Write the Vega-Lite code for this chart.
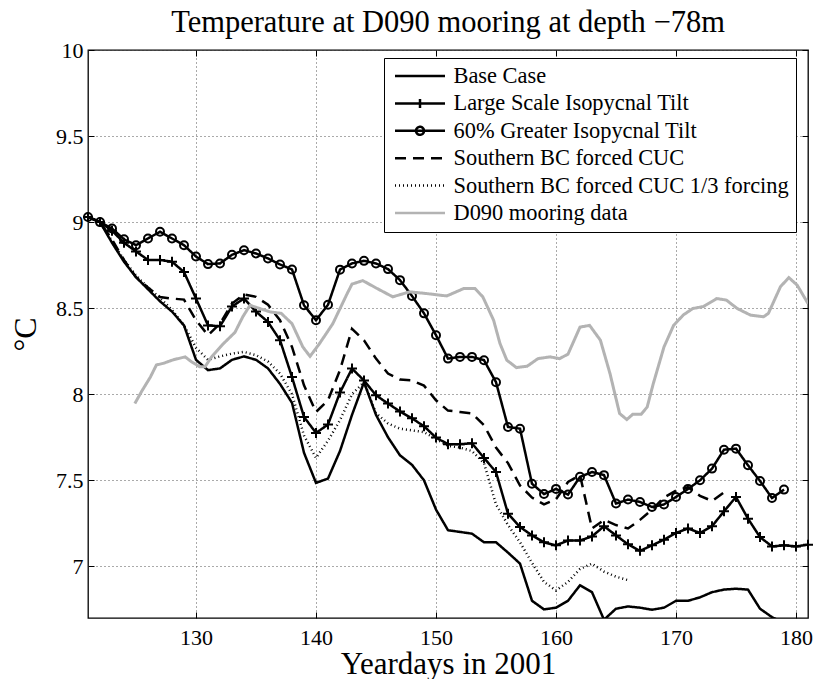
{
  "$schema": "https://vega.github.io/schema/vega-lite/v6.json",
  "width": 720,
  "height": 568,
  "autosize": {"type": "none"},
  "padding": {"left": 88, "top": 50, "right": 7, "bottom": 61},
  "background": "white",
  "title": {"text": "Temperature at D090 mooring at depth −78m", "font": "Liberation Serif", "fontSize": 30.5, "fontWeight": "normal", "color": "black", "offset": 1, "anchor": "middle"},
  "config": {
    "view": {"stroke": "black", "strokeWidth": 1.3},
    "font": "Liberation Serif"
  },
  "datasets": {
    "sim": [
      {"day":121,"series":"Base Case","temp":9.03},{"day":122,"series":"Base Case","temp":9.0},{"day":123,"series":"Base Case","temp":8.88},{"day":124,"series":"Base Case","temp":8.77},{"day":125,"series":"Base Case","temp":8.68},{"day":126,"series":"Base Case","temp":8.61},{"day":127,"series":"Base Case","temp":8.54},{"day":128,"series":"Base Case","temp":8.48},{"day":129,"series":"Base Case","temp":8.40},{"day":130,"series":"Base Case","temp":8.20},{"day":131,"series":"Base Case","temp":8.14},{"day":132,"series":"Base Case","temp":8.15},{"day":133,"series":"Base Case","temp":8.20},{"day":134,"series":"Base Case","temp":8.22},{"day":135,"series":"Base Case","temp":8.20},{"day":136,"series":"Base Case","temp":8.15},{"day":137,"series":"Base Case","temp":8.06},{"day":138,"series":"Base Case","temp":7.95},{"day":139,"series":"Base Case","temp":7.66},{"day":140,"series":"Base Case","temp":7.485},{"day":141,"series":"Base Case","temp":7.51},{"day":142,"series":"Base Case","temp":7.67},{"day":143,"series":"Base Case","temp":7.88},{"day":144,"series":"Base Case","temp":8.07},{"day":145,"series":"Base Case","temp":7.88},{"day":146,"series":"Base Case","temp":7.75},{"day":147,"series":"Base Case","temp":7.645},{"day":148,"series":"Base Case","temp":7.59},{"day":149,"series":"Base Case","temp":7.50},{"day":150,"series":"Base Case","temp":7.33},{"day":151,"series":"Base Case","temp":7.21},{"day":152,"series":"Base Case","temp":7.20},{"day":153,"series":"Base Case","temp":7.19},{"day":154,"series":"Base Case","temp":7.14},{"day":155,"series":"Base Case","temp":7.14},{"day":156,"series":"Base Case","temp":7.08},{"day":157,"series":"Base Case","temp":7.016},{"day":158,"series":"Base Case","temp":6.80},{"day":159,"series":"Base Case","temp":6.75},{"day":160,"series":"Base Case","temp":6.76},{"day":161,"series":"Base Case","temp":6.80},{"day":162,"series":"Base Case","temp":6.89},{"day":163,"series":"Base Case","temp":6.85},{"day":164,"series":"Base Case","temp":6.69},{"day":165,"series":"Base Case","temp":6.754},{"day":166,"series":"Base Case","temp":6.767},{"day":167,"series":"Base Case","temp":6.76},{"day":168,"series":"Base Case","temp":6.748},{"day":169,"series":"Base Case","temp":6.76},{"day":170,"series":"Base Case","temp":6.80},{"day":171,"series":"Base Case","temp":6.80},{"day":172,"series":"Base Case","temp":6.82},{"day":173,"series":"Base Case","temp":6.85},{"day":174,"series":"Base Case","temp":6.865},{"day":175,"series":"Base Case","temp":6.87},{"day":176,"series":"Base Case","temp":6.865},{"day":177,"series":"Base Case","temp":6.754},{"day":178,"series":"Base Case","temp":6.705},{"day":179,"series":"Base Case","temp":6.67},{"day":180,"series":"Base Case","temp":6.68},{"day":181,"series":"Base Case","temp":6.67},

      {"day":121,"series":"Large Scale Isopycnal Tilt","temp":9.03},{"day":122,"series":"Large Scale Isopycnal Tilt","temp":9.0},{"day":123,"series":"Large Scale Isopycnal Tilt","temp":8.95},{"day":124,"series":"Large Scale Isopycnal Tilt","temp":8.88},{"day":125,"series":"Large Scale Isopycnal Tilt","temp":8.83},{"day":126,"series":"Large Scale Isopycnal Tilt","temp":8.78},{"day":127,"series":"Large Scale Isopycnal Tilt","temp":8.78},{"day":128,"series":"Large Scale Isopycnal Tilt","temp":8.77},{"day":129,"series":"Large Scale Isopycnal Tilt","temp":8.71},{"day":130,"series":"Large Scale Isopycnal Tilt","temp":8.556},{"day":131,"series":"Large Scale Isopycnal Tilt","temp":8.40},{"day":132,"series":"Large Scale Isopycnal Tilt","temp":8.395},{"day":133,"series":"Large Scale Isopycnal Tilt","temp":8.51},{"day":134,"series":"Large Scale Isopycnal Tilt","temp":8.556},{"day":135,"series":"Large Scale Isopycnal Tilt","temp":8.48},{"day":136,"series":"Large Scale Isopycnal Tilt","temp":8.42},{"day":137,"series":"Large Scale Isopycnal Tilt","temp":8.314},{"day":138,"series":"Large Scale Isopycnal Tilt","temp":8.10},{"day":139,"series":"Large Scale Isopycnal Tilt","temp":7.868},{"day":140,"series":"Large Scale Isopycnal Tilt","temp":7.775},{"day":141,"series":"Large Scale Isopycnal Tilt","temp":7.824},{"day":142,"series":"Large Scale Isopycnal Tilt","temp":8.01},{"day":143,"series":"Large Scale Isopycnal Tilt","temp":8.149},{"day":144,"series":"Large Scale Isopycnal Tilt","temp":8.08},{"day":145,"series":"Large Scale Isopycnal Tilt","temp":7.994},{"day":146,"series":"Large Scale Isopycnal Tilt","temp":7.946},{"day":147,"series":"Large Scale Isopycnal Tilt","temp":7.90},{"day":148,"series":"Large Scale Isopycnal Tilt","temp":7.86},{"day":149,"series":"Large Scale Isopycnal Tilt","temp":7.814},{"day":150,"series":"Large Scale Isopycnal Tilt","temp":7.748},{"day":151,"series":"Large Scale Isopycnal Tilt","temp":7.71},{"day":152,"series":"Large Scale Isopycnal Tilt","temp":7.71},{"day":153,"series":"Large Scale Isopycnal Tilt","temp":7.715},{"day":154,"series":"Large Scale Isopycnal Tilt","temp":7.63},{"day":155,"series":"Large Scale Isopycnal Tilt","temp":7.548},{"day":156,"series":"Large Scale Isopycnal Tilt","temp":7.306},{"day":157,"series":"Large Scale Isopycnal Tilt","temp":7.229},{"day":158,"series":"Large Scale Isopycnal Tilt","temp":7.18},{"day":159,"series":"Large Scale Isopycnal Tilt","temp":7.14},{"day":160,"series":"Large Scale Isopycnal Tilt","temp":7.122},{"day":161,"series":"Large Scale Isopycnal Tilt","temp":7.15},{"day":162,"series":"Large Scale Isopycnal Tilt","temp":7.15},{"day":163,"series":"Large Scale Isopycnal Tilt","temp":7.174},{"day":164,"series":"Large Scale Isopycnal Tilt","temp":7.233},{"day":165,"series":"Large Scale Isopycnal Tilt","temp":7.18},{"day":166,"series":"Large Scale Isopycnal Tilt","temp":7.128},{"day":167,"series":"Large Scale Isopycnal Tilt","temp":7.09},{"day":168,"series":"Large Scale Isopycnal Tilt","temp":7.122},{"day":169,"series":"Large Scale Isopycnal Tilt","temp":7.155},{"day":170,"series":"Large Scale Isopycnal Tilt","temp":7.194},{"day":171,"series":"Large Scale Isopycnal Tilt","temp":7.22},{"day":172,"series":"Large Scale Isopycnal Tilt","temp":7.194},{"day":173,"series":"Large Scale Isopycnal Tilt","temp":7.233},{"day":174,"series":"Large Scale Isopycnal Tilt","temp":7.32},{"day":175,"series":"Large Scale Isopycnal Tilt","temp":7.403},{"day":176,"series":"Large Scale Isopycnal Tilt","temp":7.277},{"day":177,"series":"Large Scale Isopycnal Tilt","temp":7.17},{"day":178,"series":"Large Scale Isopycnal Tilt","temp":7.116},{"day":179,"series":"Large Scale Isopycnal Tilt","temp":7.122},{"day":180,"series":"Large Scale Isopycnal Tilt","temp":7.116},{"day":181,"series":"Large Scale Isopycnal Tilt","temp":7.126},

      {"day":121,"series":"60% Greater Isopycnal Tilt","temp":9.03},{"day":122,"series":"60% Greater Isopycnal Tilt","temp":9.0},{"day":123,"series":"60% Greater Isopycnal Tilt","temp":8.963},{"day":124,"series":"60% Greater Isopycnal Tilt","temp":8.90},{"day":125,"series":"60% Greater Isopycnal Tilt","temp":8.866},{"day":126,"series":"60% Greater Isopycnal Tilt","temp":8.905},{"day":127,"series":"60% Greater Isopycnal Tilt","temp":8.944},{"day":128,"series":"60% Greater Isopycnal Tilt","temp":8.905},{"day":129,"series":"60% Greater Isopycnal Tilt","temp":8.866},{"day":130,"series":"60% Greater Isopycnal Tilt","temp":8.80},{"day":131,"series":"60% Greater Isopycnal Tilt","temp":8.756},{"day":132,"series":"60% Greater Isopycnal Tilt","temp":8.76},{"day":133,"series":"60% Greater Isopycnal Tilt","temp":8.81},{"day":134,"series":"60% Greater Isopycnal Tilt","temp":8.837},{"day":135,"series":"60% Greater Isopycnal Tilt","temp":8.818},{"day":136,"series":"60% Greater Isopycnal Tilt","temp":8.789},{"day":137,"series":"60% Greater Isopycnal Tilt","temp":8.754},{"day":138,"series":"60% Greater Isopycnal Tilt","temp":8.725},{"day":139,"series":"60% Greater Isopycnal Tilt","temp":8.517},{"day":140,"series":"60% Greater Isopycnal Tilt","temp":8.43},{"day":141,"series":"60% Greater Isopycnal Tilt","temp":8.52},{"day":142,"series":"60% Greater Isopycnal Tilt","temp":8.724},{"day":143,"series":"60% Greater Isopycnal Tilt","temp":8.76},{"day":144,"series":"60% Greater Isopycnal Tilt","temp":8.775},{"day":145,"series":"60% Greater Isopycnal Tilt","temp":8.76},{"day":146,"series":"60% Greater Isopycnal Tilt","temp":8.727},{"day":147,"series":"60% Greater Isopycnal Tilt","temp":8.663},{"day":148,"series":"60% Greater Isopycnal Tilt","temp":8.571},{"day":149,"series":"60% Greater Isopycnal Tilt","temp":8.47},{"day":150,"series":"60% Greater Isopycnal Tilt","temp":8.343},{"day":151,"series":"60% Greater Isopycnal Tilt","temp":8.207},{"day":152,"series":"60% Greater Isopycnal Tilt","temp":8.217},{"day":153,"series":"60% Greater Isopycnal Tilt","temp":8.217},{"day":154,"series":"60% Greater Isopycnal Tilt","temp":8.198},{"day":155,"series":"60% Greater Isopycnal Tilt","temp":8.07},{"day":156,"series":"60% Greater Isopycnal Tilt","temp":7.81},{"day":157,"series":"60% Greater Isopycnal Tilt","temp":7.80},{"day":158,"series":"60% Greater Isopycnal Tilt","temp":7.48},{"day":159,"series":"60% Greater Isopycnal Tilt","temp":7.42},{"day":160,"series":"60% Greater Isopycnal Tilt","temp":7.45},{"day":161,"series":"60% Greater Isopycnal Tilt","temp":7.417},{"day":162,"series":"60% Greater Isopycnal Tilt","temp":7.52},{"day":163,"series":"60% Greater Isopycnal Tilt","temp":7.548},{"day":164,"series":"60% Greater Isopycnal Tilt","temp":7.53},{"day":165,"series":"60% Greater Isopycnal Tilt","temp":7.365},{"day":166,"series":"60% Greater Isopycnal Tilt","temp":7.388},{"day":167,"series":"60% Greater Isopycnal Tilt","temp":7.374},{"day":168,"series":"60% Greater Isopycnal Tilt","temp":7.345},{"day":169,"series":"60% Greater Isopycnal Tilt","temp":7.36},{"day":170,"series":"60% Greater Isopycnal Tilt","temp":7.403},{"day":171,"series":"60% Greater Isopycnal Tilt","temp":7.45},{"day":172,"series":"60% Greater Isopycnal Tilt","temp":7.50},{"day":173,"series":"60% Greater Isopycnal Tilt","temp":7.568},{"day":174,"series":"60% Greater Isopycnal Tilt","temp":7.678},{"day":175,"series":"60% Greater Isopycnal Tilt","temp":7.684},{"day":176,"series":"60% Greater Isopycnal Tilt","temp":7.587},{"day":177,"series":"60% Greater Isopycnal Tilt","temp":7.496},{"day":178,"series":"60% Greater Isopycnal Tilt","temp":7.397},{"day":179,"series":"60% Greater Isopycnal Tilt","temp":7.446},

      {"day":121,"series":"Southern BC forced CUC","temp":9.03},{"day":122,"series":"Southern BC forced CUC","temp":9.0},{"day":123,"series":"Southern BC forced CUC","temp":8.90},{"day":124,"series":"Southern BC forced CUC","temp":8.78},{"day":125,"series":"Southern BC forced CUC","temp":8.68},{"day":126,"series":"Southern BC forced CUC","temp":8.62},{"day":127,"series":"Southern BC forced CUC","temp":8.565},{"day":128,"series":"Southern BC forced CUC","temp":8.556},{"day":129,"series":"Southern BC forced CUC","temp":8.55},{"day":130,"series":"Southern BC forced CUC","temp":8.43},{"day":131,"series":"Southern BC forced CUC","temp":8.343},{"day":132,"series":"Southern BC forced CUC","temp":8.41},{"day":133,"series":"Southern BC forced CUC","temp":8.527},{"day":134,"series":"Southern BC forced CUC","temp":8.58},{"day":135,"series":"Southern BC forced CUC","temp":8.566},{"day":136,"series":"Southern BC forced CUC","temp":8.52},{"day":137,"series":"Southern BC forced CUC","temp":8.43},{"day":138,"series":"Southern BC forced CUC","temp":8.275},{"day":139,"series":"Southern BC forced CUC","temp":8.052},{"day":140,"series":"Southern BC forced CUC","temp":7.897},{"day":141,"series":"Southern BC forced CUC","temp":7.965},{"day":142,"series":"Southern BC forced CUC","temp":8.14},{"day":143,"series":"Southern BC forced CUC","temp":8.38},{"day":144,"series":"Southern BC forced CUC","temp":8.314},{"day":145,"series":"Southern BC forced CUC","temp":8.207},{"day":146,"series":"Southern BC forced CUC","temp":8.12},{"day":147,"series":"Southern BC forced CUC","temp":8.085},{"day":148,"series":"Southern BC forced CUC","temp":8.08},{"day":149,"series":"Southern BC forced CUC","temp":8.05},{"day":150,"series":"Southern BC forced CUC","temp":7.965},{"day":151,"series":"Southern BC forced CUC","temp":7.905},{"day":152,"series":"Southern BC forced CUC","temp":7.897},{"day":153,"series":"Southern BC forced CUC","temp":7.888},{"day":154,"series":"Southern BC forced CUC","temp":7.82},{"day":155,"series":"Southern BC forced CUC","temp":7.69},{"day":156,"series":"Southern BC forced CUC","temp":7.60},{"day":157,"series":"Southern BC forced CUC","temp":7.47},{"day":158,"series":"Southern BC forced CUC","temp":7.40},{"day":159,"series":"Southern BC forced CUC","temp":7.36},{"day":160,"series":"Southern BC forced CUC","temp":7.39},{"day":161,"series":"Southern BC forced CUC","temp":7.49},{"day":162,"series":"Southern BC forced CUC","temp":7.53},{"day":163,"series":"Southern BC forced CUC","temp":7.22},{"day":164,"series":"Southern BC forced CUC","temp":7.27},{"day":165,"series":"Southern BC forced CUC","temp":7.24},{"day":166,"series":"Southern BC forced CUC","temp":7.22},{"day":167,"series":"Southern BC forced CUC","temp":7.27},{"day":168,"series":"Southern BC forced CUC","temp":7.33},{"day":169,"series":"Southern BC forced CUC","temp":7.40},{"day":170,"series":"Southern BC forced CUC","temp":7.44},{"day":171,"series":"Southern BC forced CUC","temp":7.46},{"day":172,"series":"Southern BC forced CUC","temp":7.41},{"day":173,"series":"Southern BC forced CUC","temp":7.38},{"day":174,"series":"Southern BC forced CUC","temp":7.43},

      {"day":121,"series":"Southern BC forced CUC 1/3 forcing","temp":9.03},{"day":122,"series":"Southern BC forced CUC 1/3 forcing","temp":9.0},{"day":123,"series":"Southern BC forced CUC 1/3 forcing","temp":8.89},{"day":124,"series":"Southern BC forced CUC 1/3 forcing","temp":8.78},{"day":125,"series":"Southern BC forced CUC 1/3 forcing","temp":8.69},{"day":126,"series":"Southern BC forced CUC 1/3 forcing","temp":8.62},{"day":127,"series":"Southern BC forced CUC 1/3 forcing","temp":8.56},{"day":128,"series":"Southern BC forced CUC 1/3 forcing","temp":8.49},{"day":129,"series":"Southern BC forced CUC 1/3 forcing","temp":8.40},{"day":130,"series":"Southern BC forced CUC 1/3 forcing","temp":8.27},{"day":131,"series":"Southern BC forced CUC 1/3 forcing","temp":8.20},{"day":132,"series":"Southern BC forced CUC 1/3 forcing","temp":8.22},{"day":133,"series":"Southern BC forced CUC 1/3 forcing","temp":8.236},{"day":134,"series":"Southern BC forced CUC 1/3 forcing","temp":8.246},{"day":135,"series":"Southern BC forced CUC 1/3 forcing","temp":8.227},{"day":136,"series":"Southern BC forced CUC 1/3 forcing","temp":8.19},{"day":137,"series":"Southern BC forced CUC 1/3 forcing","temp":8.12},{"day":138,"series":"Southern BC forced CUC 1/3 forcing","temp":8.00},{"day":139,"series":"Southern BC forced CUC 1/3 forcing","temp":7.76},{"day":140,"series":"Southern BC forced CUC 1/3 forcing","temp":7.63},{"day":141,"series":"Southern BC forced CUC 1/3 forcing","temp":7.73},{"day":142,"series":"Southern BC forced CUC 1/3 forcing","temp":7.85},{"day":143,"series":"Southern BC forced CUC 1/3 forcing","temp":8.00},{"day":144,"series":"Southern BC forced CUC 1/3 forcing","temp":8.07},{"day":145,"series":"Southern BC forced CUC 1/3 forcing","temp":7.89},{"day":146,"series":"Southern BC forced CUC 1/3 forcing","temp":7.83},{"day":147,"series":"Southern BC forced CUC 1/3 forcing","temp":7.80},{"day":148,"series":"Southern BC forced CUC 1/3 forcing","temp":7.79},{"day":149,"series":"Southern BC forced CUC 1/3 forcing","temp":7.78},{"day":150,"series":"Southern BC forced CUC 1/3 forcing","temp":7.74},{"day":151,"series":"Southern BC forced CUC 1/3 forcing","temp":7.70},{"day":152,"series":"Southern BC forced CUC 1/3 forcing","temp":7.69},{"day":153,"series":"Southern BC forced CUC 1/3 forcing","temp":7.67},{"day":154,"series":"Southern BC forced CUC 1/3 forcing","temp":7.60},{"day":155,"series":"Southern BC forced CUC 1/3 forcing","temp":7.36},{"day":156,"series":"Southern BC forced CUC 1/3 forcing","temp":7.24},{"day":157,"series":"Southern BC forced CUC 1/3 forcing","temp":7.14},{"day":158,"series":"Southern BC forced CUC 1/3 forcing","temp":7.02},{"day":159,"series":"Southern BC forced CUC 1/3 forcing","temp":6.91},{"day":160,"series":"Southern BC forced CUC 1/3 forcing","temp":6.86},{"day":161,"series":"Southern BC forced CUC 1/3 forcing","temp":6.91},{"day":162,"series":"Southern BC forced CUC 1/3 forcing","temp":6.985},{"day":163,"series":"Southern BC forced CUC 1/3 forcing","temp":7.016},{"day":164,"series":"Southern BC forced CUC 1/3 forcing","temp":6.97},{"day":165,"series":"Southern BC forced CUC 1/3 forcing","temp":6.94},{"day":166,"series":"Southern BC forced CUC 1/3 forcing","temp":6.92}
    ],
    "obs": [
      {"day":124.9,"series":"D090 mooring data","temp":7.946},{"day":125.5,"series":"D090 mooring data","temp":8.02},{"day":126.2,"series":"D090 mooring data","temp":8.10},{"day":126.7,"series":"D090 mooring data","temp":8.17},{"day":127.3,"series":"D090 mooring data","temp":8.18},{"day":128.1,"series":"D090 mooring data","temp":8.20},{"day":129.1,"series":"D090 mooring data","temp":8.217},{"day":129.6,"series":"D090 mooring data","temp":8.19},{"day":130.3,"series":"D090 mooring data","temp":8.16},{"day":130.75,"series":"D090 mooring data","temp":8.16},{"day":131.3,"series":"D090 mooring data","temp":8.217},{"day":132.3,"series":"D090 mooring data","temp":8.295},{"day":133.25,"series":"D090 mooring data","temp":8.36},{"day":133.9,"series":"D090 mooring data","temp":8.45},{"day":134.5,"series":"D090 mooring data","temp":8.517},{"day":135.3,"series":"D090 mooring data","temp":8.498},{"day":136.2,"series":"D090 mooring data","temp":8.478},{"day":137.1,"series":"D090 mooring data","temp":8.47},{"day":138.0,"series":"D090 mooring data","temp":8.41},{"day":138.9,"series":"D090 mooring data","temp":8.275},{"day":139.5,"series":"D090 mooring data","temp":8.22},{"day":140.3,"series":"D090 mooring data","temp":8.295},{"day":141.4,"series":"D090 mooring data","temp":8.41},{"day":142.6,"series":"D090 mooring data","temp":8.585},{"day":143.0,"series":"D090 mooring data","temp":8.64},{"day":143.9,"series":"D090 mooring data","temp":8.66},{"day":145.1,"series":"D090 mooring data","temp":8.614},{"day":146.4,"series":"D090 mooring data","temp":8.566},{"day":147.8,"series":"D090 mooring data","temp":8.595},{"day":149.2,"series":"D090 mooring data","temp":8.585},{"day":150.9,"series":"D090 mooring data","temp":8.571},{"day":152.3,"series":"D090 mooring data","temp":8.614},{"day":153.25,"series":"D090 mooring data","temp":8.614},{"day":153.9,"series":"D090 mooring data","temp":8.566},{"day":154.8,"series":"D090 mooring data","temp":8.43},{"day":155.33,"series":"D090 mooring data","temp":8.295},{"day":155.9,"series":"D090 mooring data","temp":8.198},{"day":156.7,"series":"D090 mooring data","temp":8.155},{"day":157.6,"series":"D090 mooring data","temp":8.163},{"day":158.5,"series":"D090 mooring data","temp":8.207},{"day":159.5,"series":"D090 mooring data","temp":8.217},{"day":160.3,"series":"D090 mooring data","temp":8.207},{"day":161.0,"series":"D090 mooring data","temp":8.233},{"day":162.0,"series":"D090 mooring data","temp":8.39},{"day":162.8,"series":"D090 mooring data","temp":8.40},{"day":163.7,"series":"D090 mooring data","temp":8.314},{"day":164.5,"series":"D090 mooring data","temp":8.12},{"day":165.3,"series":"D090 mooring data","temp":7.888},{"day":165.9,"series":"D090 mooring data","temp":7.853},{"day":166.4,"series":"D090 mooring data","temp":7.884},{"day":167.1,"series":"D090 mooring data","temp":7.884},{"day":167.6,"series":"D090 mooring data","temp":7.926},{"day":168.1,"series":"D090 mooring data","temp":8.06},{"day":169.0,"series":"D090 mooring data","temp":8.275},{"day":169.8,"series":"D090 mooring data","temp":8.40},{"day":170.6,"series":"D090 mooring data","temp":8.46},{"day":171.4,"series":"D090 mooring data","temp":8.498},{"day":172.3,"series":"D090 mooring data","temp":8.51},{"day":173.4,"series":"D090 mooring data","temp":8.556},{"day":174.2,"series":"D090 mooring data","temp":8.547},{"day":175.1,"series":"D090 mooring data","temp":8.498},{"day":176.2,"series":"D090 mooring data","temp":8.46},{"day":177.3,"series":"D090 mooring data","temp":8.45},{"day":177.7,"series":"D090 mooring data","temp":8.47},{"day":178.7,"series":"D090 mooring data","temp":8.624},{"day":179.4,"series":"D090 mooring data","temp":8.678},{"day":180.1,"series":"D090 mooring data","temp":8.634},{"day":181.0,"series":"D090 mooring data","temp":8.527}
    ]
  },
  "resolve": {"axis": {"x": "independent", "y": "independent"}},
  "layer": [
    {
      "data": {"name": "sim"},
      "mark": {"type": "line", "clip": true, "strokeWidth": 2.5},
      "encoding": {
        "x": {"field": "day", "type": "quantitative", "scale": {"domain": [121, 181], "nice": false, "zero": false},
          "axis": {"orient": "bottom", "values": [130, 140, 150, 160, 170, 180], "format": "d", "grid": true, "gridDash": [1, 3], "gridColor": "#555", "gridWidth": 1, "domain": false, "ticks": true, "tickSize": -6, "tickColor": "black", "tickWidth": 1, "labelFont": "Liberation Serif", "labelFontSize": 22, "labelColor": "black", "labelPadding": 15, "title": "Yeardays in 2001", "titleFont": "Liberation Serif", "titleFontSize": 31, "titleFontWeight": "normal", "titleColor": "black", "titlePadding": 1}},
        "y": {"field": "temp", "type": "quantitative", "scale": {"domain": [6.7, 10], "nice": false, "zero": false},
          "axis": {"orient": "left", "values": [7, 7.5, 8, 8.5, 9, 9.5, 10], "format": "~g", "grid": true, "gridDash": [1, 3], "gridColor": "#555", "gridWidth": 1, "domain": false, "ticks": true, "tickSize": -6, "tickColor": "black", "tickWidth": 1, "labelFont": "Liberation Serif", "labelFontSize": 22, "labelColor": "black", "labelPadding": 11, "title": "°C", "titleFont": "Liberation Serif", "titleFontSize": 32, "titleFontWeight": "normal", "titleColor": "black", "titlePadding": 13}},
        "stroke": {"field": "series", "type": "nominal",
          "scale": {"domain": ["Base Case", "Large Scale Isopycnal Tilt", "60% Greater Isopycnal Tilt", "Southern BC forced CUC", "Southern BC forced CUC 1/3 forcing", "D090 mooring data"], "range": ["#000000", "#000000", "#000000", "#000000", "#000000", "#b3b3b3"]},
          "legend": {"title": null, "orient": "none", "legendX": 296, "legendY": 8,
            "symbolType": {"expr": "datum.value === 'Large Scale Isopycnal Tilt' ? 'M-1,0L1,0M0,-0.18L0,0.18' : datum.value === '60% Greater Isopycnal Tilt' ? 'M-1,0L1,0M0.16,0A0.16,0.16 0 1 1 -0.16,0A0.16,0.16 0 1 1 0.16,0' : 'M-1,0L1,0'"},
            "symbolStrokeWidth": 2.5,
            "symbolFillColor": "transparent",
            "symbolSize": 2500, "labelFont": "Liberation Serif", "labelFontSize": 22.4, "labelColor": "black", "labelLimit": 400, "padding": 7, "strokeColor": "black", "fillColor": "white", "clipHeight": 22, "rowPadding": 4.4, "symbolOffset": 2.5, "labelOffset": 7}},
        "strokeDash": {"field": "series", "type": "nominal",
          "scale": {"domain": ["Base Case", "Large Scale Isopycnal Tilt", "60% Greater Isopycnal Tilt", "Southern BC forced CUC", "Southern BC forced CUC 1/3 forcing", "D090 mooring data"], "range": [[1, 0], [1, 0], [1, 0], [11, 7], [1, 3], [1, 0]]},
          "legend": {"title": null, "orient": "none", "legendX": 296, "legendY": 8,
            "symbolType": {"expr": "datum.value === 'Large Scale Isopycnal Tilt' ? 'M-1,0L1,0M0,-0.18L0,0.18' : datum.value === '60% Greater Isopycnal Tilt' ? 'M-1,0L1,0M0.16,0A0.16,0.16 0 1 1 -0.16,0A0.16,0.16 0 1 1 0.16,0' : 'M-1,0L1,0'"},
            "symbolStrokeWidth": 2.5,
            "symbolFillColor": "transparent",
            "symbolSize": 2500, "labelFont": "Liberation Serif", "labelFontSize": 22.4, "labelColor": "black", "labelLimit": 400, "padding": 7, "strokeColor": "black", "fillColor": "white", "clipHeight": 22, "rowPadding": 4.4, "symbolOffset": 2.5, "labelOffset": 7}},
        "order": {"field": "day", "type": "quantitative"}
      }
    },
    {
      "data": {"name": "sim"},
      "transform": [{"filter": "datum.series === 'Large Scale Isopycnal Tilt'"}],
      "mark": {"type": "point", "shape": "M-1,0L1,0M0,-1L0,1", "size": 100, "filled": false, "stroke": "black", "strokeWidth": 2, "opacity": 1},
      "encoding": {
        "x": {"field": "day", "type": "quantitative", "axis": null},
        "y": {"field": "temp", "type": "quantitative", "axis": null}
      }
    },
    {
      "data": {"name": "sim"},
      "transform": [{"filter": "datum.series === '60% Greater Isopycnal Tilt'"}],
      "mark": {"type": "point", "shape": "circle", "size": 64, "filled": false, "stroke": "black", "strokeWidth": 2, "opacity": 1},
      "encoding": {
        "x": {"field": "day", "type": "quantitative", "axis": null},
        "y": {"field": "temp", "type": "quantitative", "axis": null}
      }
    },
    {
      "data": {"name": "obs"},
      "mark": {"type": "line", "clip": true, "strokeWidth": 3},
      "encoding": {
        "x": {"field": "day", "type": "quantitative",
          "axis": {"orient": "top", "values": [130, 140, 150, 160, 170, 180], "grid": false, "labels": false, "domain": false, "ticks": true, "tickSize": -6, "tickColor": "black", "tickWidth": 1, "title": null}},
        "y": {"field": "temp", "type": "quantitative",
          "axis": {"orient": "right", "values": [7, 7.5, 8, 8.5, 9, 9.5, 10], "grid": false, "labels": false, "domain": false, "ticks": true, "tickSize": -6, "tickColor": "black", "tickWidth": 1, "title": null}},
        "stroke": {"field": "series", "type": "nominal"},
        "strokeDash": {"field": "series", "type": "nominal"},
        "order": {"field": "day", "type": "quantitative"}
      }
    }
  ]
}
